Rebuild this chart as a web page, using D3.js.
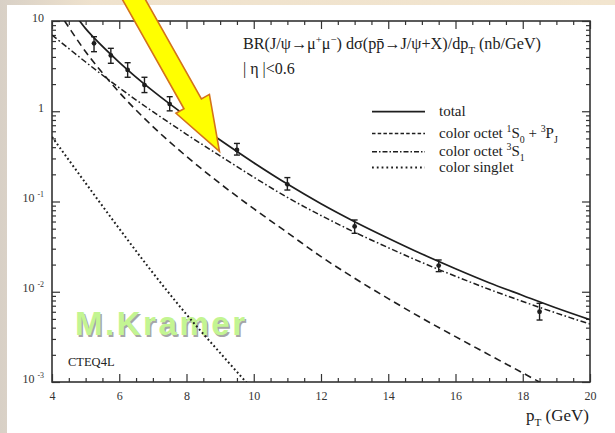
<!DOCTYPE html>
<html>
<head>
<meta charset="utf-8">
<script src="https://cdn.jsdelivr.net/npm/d3@7"></script>
<style>
body { margin: 0; background: #fff; }
svg text { font-family: "Liberation Serif", "Times New Roman", serif; fill: #222; }
</style>
</head>
<body>
<div id="chart"></div>
<script>
// values, pT in GeV, cross section in nb/GeV
var dataPt   = [5.25, 5.75, 6.25, 6.75, 7.5, 9.5, 11, 13, 15.5, 18.5]
var dataVal  = [5.66, 4.15, 2.87, 1.95, 1.2, 0.372, 0.155, 0.053, 0.0195, 0.006]
var dataHi   = [6.7, 4.98, 3.45, 2.38, 1.45, 0.44, 0.184, 0.0624, 0.0225, 0.00745]
var dataLo   = [4.57, 3.4, 2.38, 1.61, 1.01, 0.327, 0.134, 0.0444, 0.0167, 0.00486]

var totalPt  = [4.5, 5, 6, 7, 8, 9, 10, 11, 12, 13, 14, 15, 16, 17, 18, 19, 20]
var totalVal = [15, 8.24, 3.49, 1.68, 0.878, 0.48, 0.269, 0.156, 0.0945, 0.0598, 0.0392, 0.0262, 0.018, 0.0126, 0.0091, 0.0066, 0.0049]

var octetPPt  = [4, 5, 6, 7, 8, 9, 10, 11, 12, 13, 14, 15, 16, 17, 18, 19]
var octetPVal = [16.5, 4.57, 1.62, 0.676, 0.316, 0.158, 0.0832, 0.0452, 0.0245, 0.0141, 0.0084, 0.0051, 0.00318, 0.002, 0.00126, 0.00079]

var octetSPt  = [4, 5, 6, 7, 8, 9, 10, 11, 12, 13, 14, 15, 16, 17, 18, 19, 20]
var octetSVal = [7.0, 3.51, 1.82, 0.989, 0.556, 0.32, 0.186, 0.111, 0.070, 0.0457, 0.0308, 0.0211, 0.01486, 0.01064, 0.0078, 0.0058, 0.00439]

var singletPt  = [4, 5, 6, 7, 8, 9, 10]
var singletVal = [0.52, 0.16, 0.05, 0.0162, 0.0056, 0.0021, 0.0008]

var xMajor = [4, 6, 8, 10, 12, 14, 16, 18, 20]
var yMajor = [1e-3, 1e-2, 1e-1, 1, 10]

var svgWidth = 615, svgHeight = 433
var plotLeft = 52, plotRight = 590, plotTop = 21, plotBottom = 382
var ink = "#1e1e1e"

var svg = d3.select("#chart").append("svg")
  .attr("width", svgWidth)
  .attr("height", svgHeight)

var x = d3.scaleLinear().domain([4, 20]).range([plotLeft, plotRight])
var y = d3.scaleLog().domain([1e-3, 10]).range([plotBottom, plotTop])

// parchment border and white page
var grad = svg.append("defs").append("linearGradient").attr("id", "paper")
grad.append("stop").attr("offset", "0").attr("stop-color", "#d8d0c6")
grad.append("stop").attr("offset", "0.15").attr("stop-color", "#efe2cd")
grad.append("stop").attr("offset", "1").attr("stop-color", "#f2e5cf")
svg.append("rect").attr("width", svgWidth).attr("height", svgHeight).attr("fill", "url(#paper)")
svg.append("rect").attr("x", 7).attr("y", 5).attr("width", svgWidth - 7).attr("height", svgHeight - 5).attr("fill", "#fff")

svg.append("clipPath").attr("id", "plotArea")
  .append("rect").attr("x", plotLeft).attr("y", plotTop)
  .attr("width", plotRight - plotLeft).attr("height", plotBottom - plotTop)

// text with super/subscripts
function rich(text, parts, size) {
  var shift = 0
  parts.forEach(function(p) {
    var target = p[1] == "sup" ? -size * 0.4 : p[1] == "sub" ? size * 0.3 : 0
    text.append("tspan")
      .attr("dy", target - shift)
      .attr("font-size", p[1] ? size * 0.66 : size)
      .text(p[0])
    shift = target
  })
}

// watermark
var wmFont = "Liberation Sans, Arial, sans-serif"
svg.append("text").attr("x", 76.5).attr("y", 336.5).attr("font-size", 33).attr("font-weight", "bold")
  .attr("textLength", 170).style("font-family", wmFont).style("fill", "#a6a6a6").text("M.Kramer")
svg.append("text").attr("x", 75).attr("y", 335).attr("font-size", 33).attr("font-weight", "bold")
  .attr("textLength", 170).style("font-family", wmFont).style("fill", "#c3f592").text("M.Kramer")

// ticks, all pointing inwards
var xMinor = d3.range(4, 20.01, 0.5).filter(function(d) { return xMajor.indexOf(d) < 0 })
var yMinor = []
yMajor.slice(0, -1).forEach(function(dec) {
  d3.range(2, 10).forEach(function(k) { yMinor.push(dec * k) })
})

function drawAxis(axis, tx, ty) {
  var g = svg.append("g").attr("transform", "translate(" + tx + "," + ty + ")").call(axis)
  g.select(".domain").remove()
  g.selectAll(".tick line").attr("stroke", "#333").attr("stroke-width", 1.2)
  return g
}
drawAxis(d3.axisBottom(x).tickValues(xMinor).tickSize(-4).tickFormat(""), 0, plotBottom)
drawAxis(d3.axisTop(x).tickValues(xMinor).tickSize(-4).tickFormat(""), 0, plotTop)
drawAxis(d3.axisTop(x).tickValues(xMajor).tickSize(-8).tickFormat(""), 0, plotTop)
drawAxis(d3.axisLeft(y).tickValues(yMinor).tickSize(-4).tickFormat(""), plotLeft, 0)
drawAxis(d3.axisRight(y).tickValues(yMinor).tickSize(-4).tickFormat(""), plotRight, 0)
drawAxis(d3.axisRight(y).tickValues(yMajor).tickSize(-8).tickFormat(""), plotRight, 0)

var xAxis = drawAxis(d3.axisBottom(x).tickValues(xMajor).tickSize(-8).tickPadding(9).tickFormat(d3.format("d")), 0, plotBottom)
xAxis.selectAll("text").attr("font-size", 12).style("font-family", "Liberation Serif, serif").style("fill", "#333")

var yAxis = drawAxis(d3.axisLeft(y).tickValues(yMajor).tickSize(-8).tickFormat(""), plotLeft, 0)
yAxis.selectAll(".tick").each(function(d) {
  var t = d3.select(this).append("text").attr("x", -8).attr("dy", "0.35em")
    .attr("text-anchor", "end").style("fill", "#333").attr("font-size", 12)
  var e = Math.round(Math.log10(d))
  if (e >= 0) rich(t, [[d3.format("d")(d)]], 12)
  else rich(t, [["10 "], [String(e), "sup"]], 12)
})

// frame
svg.append("rect").attr("x", plotLeft).attr("y", plotTop)
  .attr("width", plotRight - plotLeft).attr("height", plotBottom - plotTop)
  .attr("fill", "none").attr("stroke", "#333").attr("stroke-width", 1.6)

// curves
var line = d3.line()
  .x(function(d) { return x(d[0]) })
  .y(function(d) { return y(d[1]) })
  .curve(d3.curveCatmullRom)

var curves = [
  { pt: totalPt,   val: totalVal,   dash: null,              width: 1.7, legendDash: null },
  { pt: octetPPt,  val: octetPVal,  dash: "7,4.5",           width: 1.6, legendDash: "3.5,2.2" },
  { pt: octetSPt,  val: octetSVal,  dash: "6,2.5,1.6,2.5",   width: 1.5, legendDash: "5,2,1.5,2" },
  { pt: singletPt, val: singletVal, dash: "1.8,2.6",         width: 2.0, legendDash: "1.8,3" }
]

var plot = svg.append("g").attr("clip-path", "url(#plotArea)")
curves.forEach(function(c) {
  plot.append("path")
    .datum(d3.zip(c.pt, c.val))
    .attr("d", line)
    .attr("fill", "none")
    .attr("stroke", ink)
    .attr("stroke-width", c.width)
    .attr("stroke-dasharray", c.dash)
})

// data points with error bars
var pts = svg.append("g").selectAll("g").data(d3.range(dataPt.length)).enter().append("g")
pts.append("line")
  .attr("x1", function(i) { return x(dataPt[i]) }).attr("x2", function(i) { return x(dataPt[i]) })
  .attr("y1", function(i) { return y(dataLo[i]) }).attr("y2", function(i) { return y(dataHi[i]) })
  .attr("stroke", ink).attr("stroke-width", 1.4)
;[dataLo, dataHi].forEach(function(arr) {
  pts.append("line")
    .attr("x1", function(i) { return x(dataPt[i]) - 3 }).attr("x2", function(i) { return x(dataPt[i]) + 3 })
    .attr("y1", function(i) { return y(arr[i]) }).attr("y2", function(i) { return y(arr[i]) })
    .attr("stroke", ink).attr("stroke-width", 1.4)
})
pts.append("circle")
  .attr("cx", function(i) { return x(dataPt[i]) })
  .attr("cy", function(i) { return y(dataVal[i]) })
  .attr("r", 2.4).attr("fill", ink)

// title lines
var title = svg.append("text").attr("x", 243).attr("y", 49).attr("font-size", 16.2)
rich(title, [["BR(J/ψ→μ"], ["+", "sup"], ["μ"], ["−", "sup"], [") dσ(pp\u0304→J/ψ+X)/dp"], ["T", "sub"], [" (nb/GeV)"]], 16.2)
svg.append("text").attr("x", 243).attr("y", 74).attr("font-size", 16).text("| η |<0.6")

// legend
var legendLabels = [
  [["total"]],
  [["color octet "], ["1", "sup"], ["S"], ["0", "sub"], [" + "], ["3", "sup"], ["P"], ["J", "sub"]],
  [["color octet "], ["3", "sup"], ["S"], ["1", "sub"]],
  [["color singlet"]]
]
var legendRowY = [111.7, 133.5, 151.7, 167.5]
legendLabels.forEach(function(parts, i) {
  var c = curves[i]
  svg.append("line").attr("x1", 372).attr("x2", 425)
    .attr("y1", legendRowY[i]).attr("y2", legendRowY[i])
    .attr("stroke", ink).attr("stroke-width", c.width)
    .attr("stroke-dasharray", c.legendDash)
  var t = svg.append("text").attr("x", 439).attr("y", legendRowY[i] + 4.5).attr("font-size", 15)
  rich(t, parts, 15)
})

// axis title and pdf tag
var xt = svg.append("text").attr("x", 589).attr("y", 421).attr("text-anchor", "end").attr("font-size", 17)
rich(xt, [["p"], ["T", "sub"], [" (GeV)"]], 17)
svg.append("text").attr("x", 68).attr("y", 366).attr("font-size", 12.5).text("CTEQ4L")

// yellow arrow, tip placed in data coordinates
var tip = [x(8.98), y(0.36)]
var u = [0.491, 0.871], n = [0.871, -0.491]
var headLen = 54.5, headHalf = 19.2, shaftHalf = 10, tailLen = 220
var mid = [tip[0] - u[0] * headLen, tip[1] - u[1] * headLen]
var tail = [mid[0] - u[0] * tailLen, mid[1] - u[1] * tailLen]
function off(p, s) { return [p[0] + n[0] * s, p[1] + n[1] * s] }
var arrow = [tip, off(mid, headHalf), off(mid, shaftHalf), off(tail, shaftHalf),
             off(tail, -shaftHalf), off(mid, -shaftHalf), off(mid, -headHalf)]
svg.append("polygon")
  .attr("points", arrow.map(function(p) { return p.join(",") }).join(" "))
  .attr("fill", "#ffff00")
  .attr("stroke", "#d4731a")
  .attr("stroke-width", 1.6)
  .attr("stroke-linejoin", "miter")
</script>
</body>
</html>
